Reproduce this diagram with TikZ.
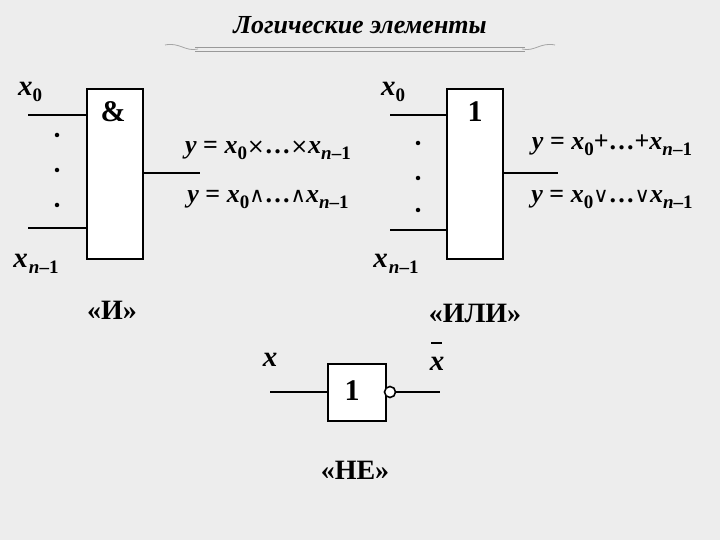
\documentclass[tikz,border=0pt]{standalone}
\usepackage{fontspec}
\setmainfont{Liberation Serif}
\newfontfamily\symf{DejaVu Sans}
\newcommand{\sbs}[1]{\raisebox{-6pt}{\fontsize{19}{20}\selectfont #1}}
\newcommand{\opr}[1]{{\upshape\mdseries\symf\fontsize{21}{21}\selectfont #1}}
\begin{document}
\begin{tikzpicture}[x=1pt,y=-1pt,
  gate/.style={draw,line width=1.6pt,fill=white},
  wire/.style={line width=1.6pt},
  lbl/.style={font=\fontsize{29}{30}\selectfont\bfseries\itshape},
  frm/.style={font=\fontsize{26}{28}\selectfont\bfseries\itshape},
  captxt/.style={font=\fontsize{28}{30}\selectfont\bfseries},
  dot/.style={circle,fill=black,inner sep=0pt,minimum size=4.5pt}]
\fill[gray!14] (0,0) rectangle (720,540);
\useasboundingbox (0,0) rectangle (720,540);
\node[font=\fontsize{26}{28}\selectfont\bfseries\itshape] (title) at (360,25) {Логические элементы};
\draw[gray!80,line width=0.8pt] (195,47) -- (525,47) (195,51) -- (525,51);
\draw[gray!70,line width=0.8pt] (165,45) .. controls (180,42) and (185,52) .. (198,49);
\draw[gray!70,line width=0.8pt] (555,45) .. controls (540,42) and (535,52) .. (522,49);
% AND
\node[gate,minimum width=56pt,minimum height=170pt,anchor=north west] (and) at (86,88) {};
\node[font=\fontsize{30}{32}\selectfont\bfseries] (amp) at (113,112) {\&};
\coordinate (a1) at (28,115); \coordinate (a2) at (28,228); \coordinate (ao) at (200,173);
\draw[wire] (a1) -- (a1 -| and.west); \draw[wire] (a2) -- (a2 -| and.west);
\draw[wire] (ao -| and.east) -- (ao);
\node[dot] (d1) at (57,135) {}; \node[dot] (d2) at (57,170) {}; \node[dot] (d3) at (57,205) {};
\node[lbl] (ax0) at (30,92) {x\sbs{\upshape 0}};
\node[lbl] (axn) at (36,264) {x\kern1pt\sbs{n\upshape–1}};
\node[frm] (f1) at (268,150) {y\upshape\ = \itshape x\sbs{\upshape 0}\opr{×}{\upshape …}\opr{×}x\sbs{n\upshape–1}};
\node[frm] (f2) at (268,200) {y\upshape\ = \itshape x\sbs{\upshape 0}\opr{∧}{\upshape …}\opr{∧}x\sbs{n\upshape–1}};
\node[captxt] (ci) at (112,310) {«И»};
% OR
\node[gate,minimum width=56pt,minimum height=170pt,anchor=north west] (or) at (446,88) {};
\node[font=\fontsize{30}{32}\selectfont\bfseries] (one) at (475,112) {1};
\coordinate (o1) at (390,115); \coordinate (o2) at (390,230); \coordinate (oo) at (558,173);
\draw[wire] (o1) -- (o1 -| or.west); \draw[wire] (o2) -- (o2 -| or.west);
\draw[wire] (oo -| or.east) -- (oo);
\node[dot] (e1) at (418,143) {}; \node[dot] (e2) at (418,178) {}; \node[dot] (e3) at (418,210) {};
\node[lbl] (ox0) at (393,92) {x\sbs{\upshape 0}};
\node[lbl] (oxn) at (396,264) {x\kern1pt\sbs{n\upshape–1}};
\node[frm] (g1) at (612,145) {y\upshape\ = \itshape x\sbs{\upshape 0}{\upshape +…+}x\sbs{n\upshape–1}};
\node[frm] (g2) at (612,200) {y\upshape\ = \itshape x\sbs{\upshape 0}\opr{∨}{\upshape …}\opr{∨}x\sbs{n\upshape–1}};
\node[captxt] (cili) at (475,313) {«ИЛИ»};
% NOT
\node[gate,minimum width=58pt,minimum height=57pt,anchor=north west] (not) at (327,363) {};
\node[font=\fontsize{30}{32}\selectfont\bfseries] (n1) at (352,391) {1};
\node[draw,line width=1.6pt,fill=white,circle,minimum size=11pt,inner sep=0pt] (inv) at (390,392) {};
\coordinate (ni) at (270,392); \coordinate (no) at (440,392);
\draw[wire] (ni) -- (ni -| not.west);
\draw[wire] (inv.east) -- (no);
\node[lbl] (nx) at (270,360) {x};
\node[lbl] (nxb) at (437,364) {x};
\draw[line width=1.6pt] (431,343) -- (442,343);
\node[captxt] (cne) at (355,470) {«НЕ»};
\end{tikzpicture}
\end{document}
